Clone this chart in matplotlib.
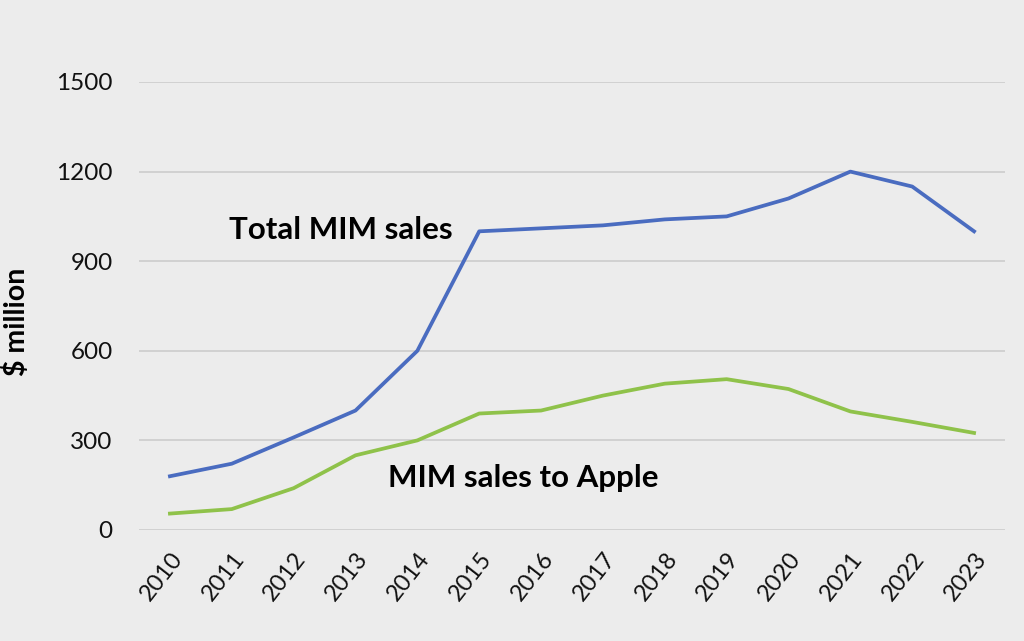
import numpy as np
import matplotlib.pyplot as plt

years = ['2010', '2011', '2012', '2013', '2014', '2015', '2016',
         '2017', '2018', '2019', '2020', '2021', '2022', '2023']
total_mim = [180, 222, 310, 400, 600, 1000, 1010, 1020, 1040, 1050, 1110, 1200, 1150, 1000]
apple_mim = [55, 70, 140, 250, 300, 390, 400, 450, 490, 505, 472, 397, 362, 325]
y_ticks = [0, 300, 600, 900, 1200, 1500]

plt.rcParams['font.family'] = ['Lato', 'DejaVu Sans']
bg = '#ececec'

fig = plt.figure(figsize=(10.24, 6.41), dpi=100, facecolor=bg)
ax = fig.add_axes([139 / 1024, 1 - 530 / 641, 866 / 1024, 448 / 641], facecolor=bg)

x = np.arange(len(years))
ax.plot(x, total_mim, color='#4a6cc0', lw=2.7, solid_joinstyle='round')
ax.plot(x, apple_mim, color='#8fc24a', lw=2.7, solid_joinstyle='round')

ax.set_xlim(-0.5, len(years) - 0.5)
ax.set_ylim(0, 1500)
ax.set_yticks(y_ticks)
ax.set_xticks(x)
ax.set_xticklabels(years, rotation=52, ha='right', rotation_mode='anchor')
ax.tick_params(length=0, labelcolor='#111111')
ax.tick_params(axis='y', pad=19, labelsize=17.5)
ax.tick_params(axis='x', pad=13, labelsize=17)
ax.grid(axis='y', color='#cfcfcf', lw=1.3)
ax.set_axisbelow(True)
for s in ax.spines.values():
    s.set_visible(False)

ax.set_ylabel('$ million', fontsize=20.5, fontweight='bold')
ax.yaxis.set_label_coords(-0.126, 0.465)

ax.text(0.96, 1005, 'Total MIM sales', fontsize=22.5, fontweight='bold', va='center', ha='left')
ax.text(3.53, 175, 'MIM sales to Apple', fontsize=22.5, fontweight='bold', va='center', ha='left')

fig.savefig('out.png', dpi=100, facecolor=bg)
